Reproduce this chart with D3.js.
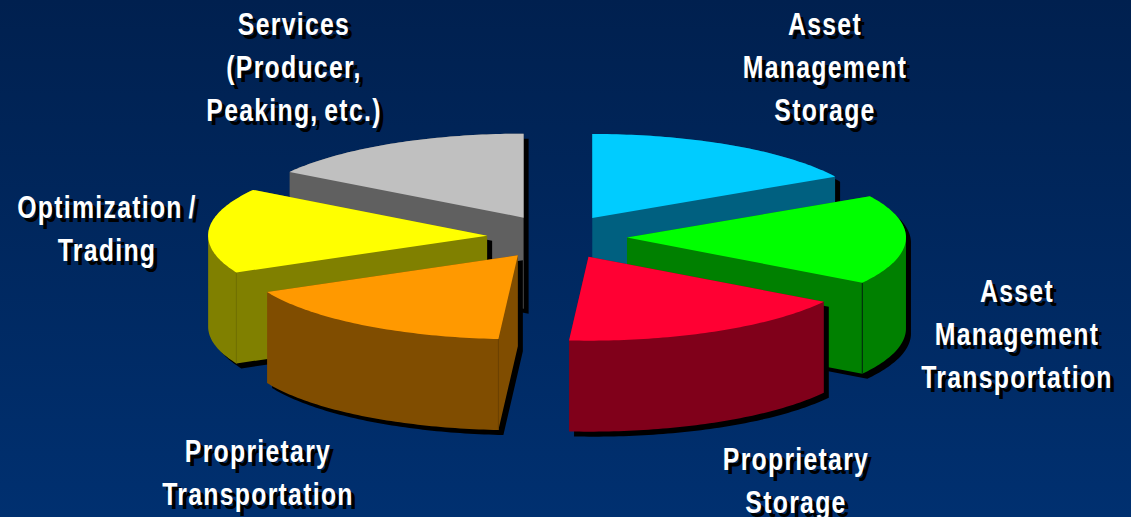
<!DOCTYPE html>
<html><head><meta charset="utf-8">
<style>html,body{margin:0;padding:0;background:#002a66;overflow:hidden}svg{display:block}</style>
<script src="https://cdn.jsdelivr.net/npm/d3@7"></script></head>
<body><svg id="c" width="1131" height="517"></svg>
<script>
const categories = ["Asset Management Storage","Asset Management Transportation","Proprietary Storage","Proprietary Transportation","Optimization / Trading","Services (Producer, Peaking, etc.)"];
const values = [60.5,62,61.5,60,59,57];
const topColors = ["#00ccff","#00ff00","#ff0033","#ff9900","#ffff00","#c0c0c0"];
const wallColors = ["#006080","#008000","#80001a","#804d00","#808000","#606060"];
const edgeColors = ["#005570","#00200f","#700016","#6a4000","#6f6f00","#555555"];
const labelLines = [["Asset","Management","Storage"],["Asset","Management","Transportation"],["Proprietary","Storage"],["Proprietary","Transportation"],["Optimization /","Trading"],["Services","(Producer,","Peaking, etc.)"]];
const labelX = [825,1017,796,258,107,294];
const labelY = [35,302,470,462,218,35];
const drawOrder = [5,0,4,1,3,2];
const cornerEnd = [null,"end",null,"start","start",null];

const W=1131,H=517,cx=557,cy=237,rx=279,ry=84,depth=91,explodeX=70,explodeY=22,lineH=42.8;
const svg=d3.select("#c");
const defs=svg.append("defs");
const g=defs.append("linearGradient").attr("id","bg").attr("x1",0).attr("x2",0).attr("y1",0).attr("y2",1);
g.append("stop").attr("offset",0).attr("stop-color","#00204f");
g.append("stop").attr("offset",1).attr("stop-color","#003070");
svg.append("rect").attr("width",W).attr("height",H).attr("fill","url(#bg)");

const X=d3.scaleLinear().domain([-1,1]).range([-rx,rx]);
const Y=d3.scaleLinear().domain([-1,1]).range([ry,-ry]);
const ex=d3.scaleLinear().domain([-1,1]).range([-explodeX,explodeX]);
const ey=d3.scaleLinear().domain([-1,1]).range([explodeY,-explodeY]);
const arcs=d3.pie().sort(null).value(d=>d)(values);
const line=d3.line();
const closed=p=>line(d3.polygonArea(p)<0?p.slice().reverse():p)+"Z";

const layer=svg.append("g");
drawOrder.forEach(i=>{
  const a=arcs[i],mid=(a.startAngle+a.endAngle)/2;
  const ox=cx+ex(Math.sin(mid)),oy=cy+ey(Math.cos(mid));
  const apex=[ox,oy];
  const n=60;
  const rim=d3.range(0,n+1).map(k=>{const t=a.startAngle+(a.endAngle-a.startAngle)*k/n;return [ox+X(Math.sin(t)),oy+Y(Math.cos(t))];});
  const down=p=>[p[0],p[1]+depth];
  const top=[apex,...rim];
  const walls=[[apex,rim[0],down(rim[0]),down(apex)],[apex,rim[n],down(rim[n]),down(apex)]];
  d3.range(0,n).forEach(k=>walls.push([rim[k],rim[k+1],down(rim[k+1]),down(rim[k])]));
  const wallPath=walls.map(closed).join("");
  const s=layer.append("g");
  const shadow=s.append("g").attr("transform","translate(5,5)");
  shadow.append("path").attr("d",wallPath+closed(top)).attr("fill","#000");
  s.append("path").attr("d",wallPath).attr("fill",wallColors[i]);
  if(cornerEnd[i]){
    const c=cornerEnd[i]==="end"?rim[n]:rim[0];
    s.append("path").attr("d",line([c,down(c)])).attr("stroke",edgeColors[i]).attr("fill","none");
  }
  s.append("path").attr("d",closed(top)).attr("fill",topColors[i]);
});

const txt=svg.append("g").attr("font-family","'Liberation Sans',Arial,sans-serif").attr("font-weight",700).attr("font-size",31).attr("text-anchor","middle");
labelLines.forEach((ls,i)=>{
  ls.forEach((t,j)=>{
    [["#000",4,4],["#fff",0,0]].forEach(([c,dx,dy])=>{
      txt.append("text").attr("transform",`translate(${labelX[i]+dx},${labelY[i]+j*lineH+dy}) scale(0.8,1)`).attr("fill",c).attr("letter-spacing",1.6).attr("word-spacing",-3).text(t);
    });
  });
});
</script></body></html>
